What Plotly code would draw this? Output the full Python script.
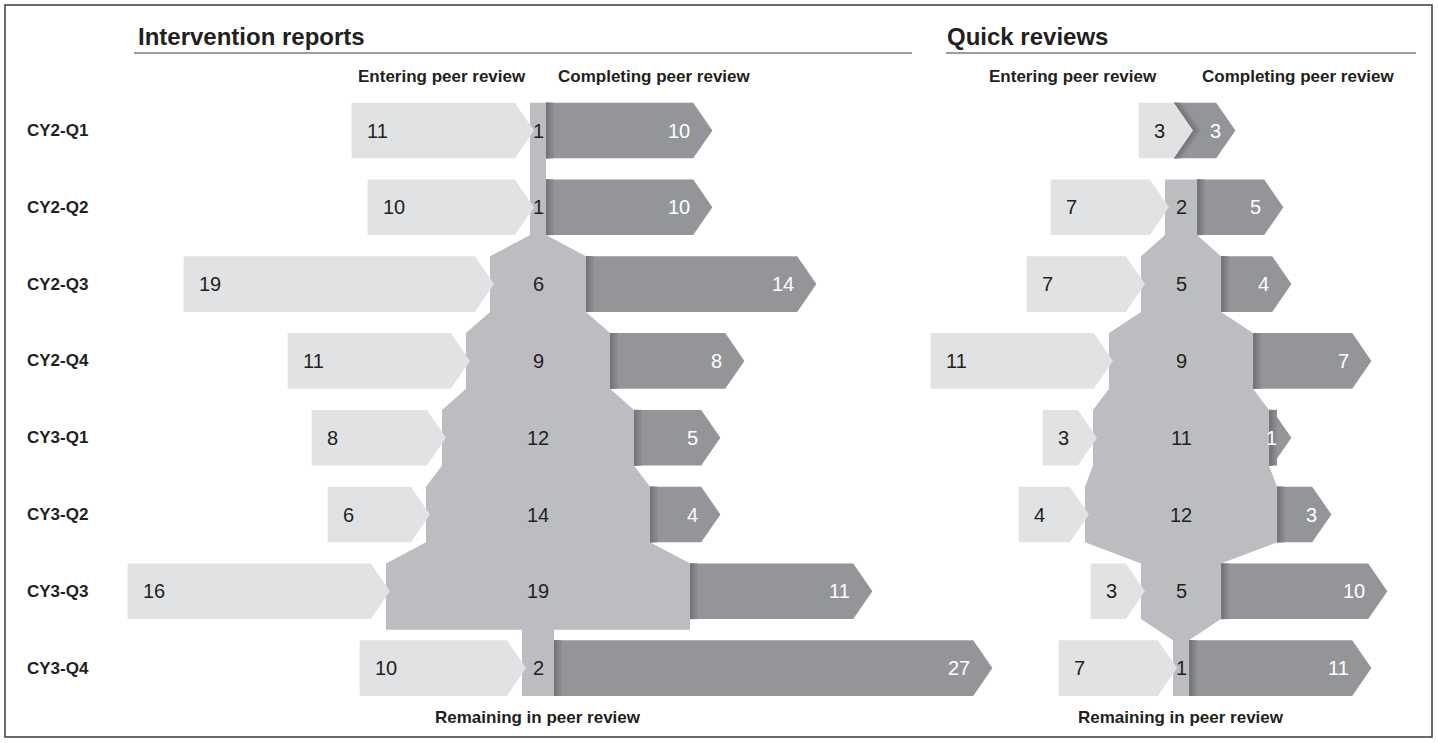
import plotly.graph_objects as go

# quarters (rows, top to bottom)
quarters = ["CY2-Q1", "CY2-Q2", "CY2-Q3", "CY2-Q4", "CY3-Q1", "CY3-Q2", "CY3-Q3", "CY3-Q4"]

# intervention reports
ir_entering = [11, 10, 19, 11, 8, 6, 16, 10]
ir_remaining = [1, 1, 6, 9, 12, 14, 19, 2]
ir_completing = [10, 10, 14, 8, 5, 4, 11, 27]

# quick reviews
qr_entering = [3, 7, 7, 11, 3, 4, 3, 7]
qr_remaining = [0, 2, 5, 9, 11, 12, 5, 1]
qr_completing = [3, 5, 4, 7, 1, 3, 10, 11]

W, H = 1438, 743
FONT = "Liberation Sans, Arial, Helvetica, sans-serif"
LIGHT, MID, DARK = "#e1e2e4", "#bcbdc0", "#939598"
SHADOWS = ["#8a8b8e", "#7f8083", "#76777a"]   # soft edge, outer to inner
INK = "#231f20"

U = 16.0          # px per item
PITCH = 76.8      # px per row
ROW0 = 130.5      # px of first row centre
HALF = 27.8 / PITCH
TIP = 1.2
PAD = 0.4
OVER = 0.25


def px(x):
    return x / W


def py(y):
    return 1 - y / H


fig = go.Figure()
annotations = []


def poly(pts, color, xa):
    xs = [p[0] for p in pts] + [pts[0][0]]
    ys = [p[1] for p in pts] + [pts[0][1]]
    fig.add_trace(go.Scatter(x=xs, y=ys, fill="toself", fillcolor=color, mode="lines",
                             line=dict(width=0), xaxis=xa, yaxis="y",
                             hoverinfo="skip", showlegend=False))


def label(x, y, text, xa, anchor, color=INK, size=20, shift=0):
    annotations.append(dict(x=x, y=y, xref=xa, yref="y", text=text, showarrow=False,
                            xanchor=anchor, yanchor="middle", xshift=shift,
                            font=dict(family=FONT, size=size, color=color)))


def add_panel(entering, remaining, completing, xa, flat_after=()):
    # remaining in peer review: one vertical flow shape per run of non-zero rows
    runs, cur = [], []
    for i, r in enumerate(remaining):
        if r > 0:
            cur.append(i)
        elif cur:
            runs.append(cur)
            cur = []
    if cur:
        runs.append(cur)
    for run in runs:
        right = []
        for k, i in enumerate(run):
            w = remaining[i] / 2
            right += [(w, i - HALF), (w, i + HALF)]
            if i in flat_after and k < len(run) - 1:
                nw = remaining[run[k + 1]] / 2
                right += [(w, i + 0.5), (nw, i + 0.5)]
        left = [(-x, y) for x, y in reversed(right)]
        poly(right + left, MID, xa)

    # where the entering arrows point to
    in_tips = [-r / 2 + OVER if r > 0 else 0.75 for r in remaining]

    # completing arrows
    for i, v in enumerate(completing):
        tip = remaining[i] / 2 + v + PAD
        top, bot = i - HALF, i + HALF
        if remaining[i] > 0:
            x0 = remaining[i] / 2
            poly([(x0, top), (tip - TIP, top), (tip, i), (tip - TIP, bot), (x0, bot)], DARK, xa)
            for d, c in zip([0.5, 0.33, 0.16], SHADOWS):
                poly([(x0, top), (x0 + d, top), (x0 + d, bot), (x0, bot)], c, xa)
        else:
            # nothing stays: the completing arrow nests behind the entering chevron
            t = in_tips[i]
            x0 = t - TIP
            poly([(x0, top), (tip - TIP, top), (tip, i), (tip - TIP, bot), (x0, bot), (t, i)], DARK, xa)
            for d, c in zip([0.5, 0.33, 0.16], SHADOWS):
                poly([(x0, top), (x0 + d, top), (t + d, i), (x0 + d, bot), (x0, bot), (t, i)], c, xa)
        label(tip, i, str(v), xa, "right", color="white", shift=-20 if v > 3 else -12)

    # entering arrows
    for i, v in enumerate(entering):
        tip = in_tips[i]
        x0 = tip - v - PAD
        poly([(x0, i - HALF), (tip - TIP, i - HALF), (tip, i), (tip - TIP, i + HALF), (x0, i + HALF)], LIGHT, xa)
        label(x0, i, str(v), xa, "left", shift=13)

    for i, r in enumerate(remaining):
        if r > 0:
            label(0, i, str(r), xa, "center")


add_panel(ir_entering, ir_remaining, ir_completing, "x", flat_after=(6,))
add_panel(qr_entering, qr_remaining, qr_completing, "x2")

# row labels
for i, q in enumerate(quarters):
    annotations.append(dict(x=px(25), y=i, xref="paper", yref="y", text=f"<b>{q}</b>",
                            showarrow=False, xanchor="left", yanchor="middle",
                            font=dict(family=FONT, size=17, color=INK)))

# column headers
hy = (76 - ROW0) / PITCH
ry = (717 - ROW0) / PITCH
for xa, ent_x, comp_x in [("x", -0.6, 1.1), ("x2", -1.4, 1.2)]:
    label(ent_x, hy, "<b>Entering peer review</b>", xa, "right", size=17)
    label(comp_x, hy, "<b>Completing peer review</b>", xa, "left", size=17)
    label(0, ry, "<b>Remaining in peer review</b>", xa, "center", size=17)

# panel titles
for x, t in [(136, "Intervention reports"), (945, "Quick reviews")]:
    annotations.append(dict(x=px(x), y=py(36), xref="paper", yref="paper", text=f"<b>{t}</b>",
                            showarrow=False, xanchor="left", yanchor="middle",
                            font=dict(family=FONT, size=24, color=INK)))

shapes = [
    dict(type="rect", xref="paper", yref="paper", x0=px(5), x1=px(1432), y0=py(737), y1=py(5),
         line=dict(color="#3a3a3a", width=1.5), fillcolor="rgba(0,0,0,0)"),
    dict(type="line", xref="paper", yref="paper", x0=px(134), x1=px(912), y0=py(53), y1=py(53),
         line=dict(color="#3a3a3a", width=1.2)),
    dict(type="line", xref="paper", yref="paper", x0=px(946), x1=px(1416), y0=py(53), y1=py(53),
         line=dict(color="#3a3a3a", width=1.2)),
]

fig.update_layout(
    width=W, height=H,
    margin=dict(l=0, r=0, t=0, b=0),
    paper_bgcolor="white", plot_bgcolor="white",
    xaxis=dict(range=[-538 / U, (W - 538) / U], visible=False, fixedrange=True),
    xaxis2=dict(range=[-1181 / U, (W - 1181) / U], visible=False, overlaying="x", fixedrange=True),
    yaxis=dict(range=[(H - ROW0) / PITCH, -ROW0 / PITCH], visible=False, fixedrange=True),
    annotations=annotations,
    shapes=shapes,
    showlegend=False,
)

fig.write_html("out.html", config={"displayModeBar": False},
               post_script="document.body.style.margin='0';document.body.style.overflow='hidden';")
